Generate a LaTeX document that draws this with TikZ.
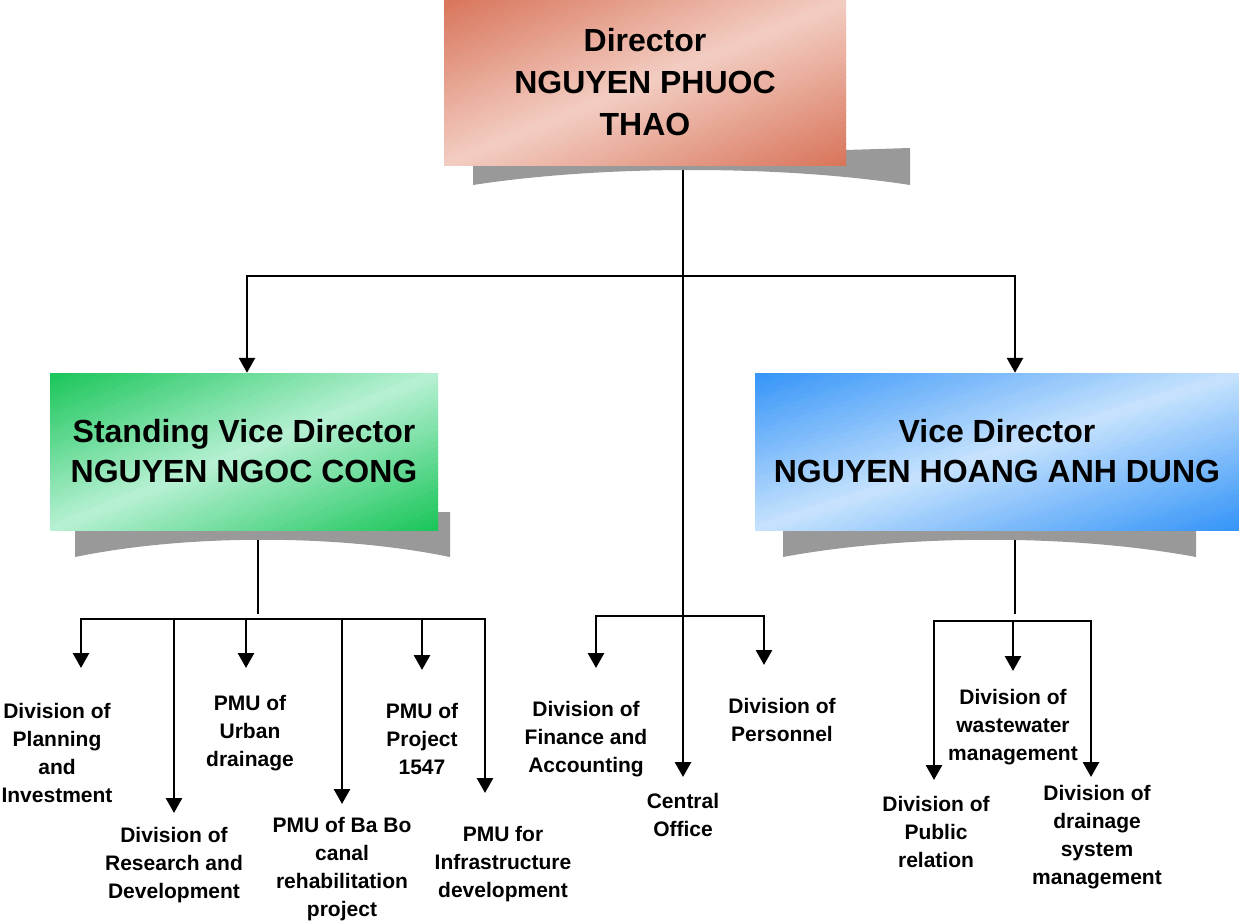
\documentclass[tikz,border=0pt]{standalone}
\usepackage{fontspec}
\setmainfont{Liberation Sans}
\usetikzlibrary{arrows.meta}
\pgfdeclarelayer{lines}
\pgfdeclarelayer{shadowlayer}
\pgfsetlayers{lines,shadowlayer,main}
\definecolor{salmonD}{HTML}{D8745A}
\definecolor{salmonL}{HTML}{F3CDC2}
\definecolor{greenD}{HTML}{18C558}
\definecolor{greenL}{HTML}{B6F0D3}
\definecolor{blueD}{HTML}{3494F8}
\definecolor{blueL}{HTML}{C6E2FD}
\definecolor{shadowgray}{HTML}{999999}
\newcommand\gradrect[6]{%
  \begin{scope}
    \clip (#1,#2) rectangle ++(#3,#4);
    \foreach \k in {0,...,59}{%
      \pgfmathsetmacro\ca{2*\k/60}%
      \pgfmathsetmacro\cb{2*(\k+1)/60+0.012}%
      \pgfmathtruncatemacro\m{100*abs(2*(\k+0.5)/60-1)}%
      \fill[#5!\m!#6] ({#1+(\ca+0.1)*#3},{#2-0.1*#4}) -- ({#1+(\cb+0.1)*#3},{#2-0.1*#4})
        -- ({#1+(\cb-1.1)*#3},{#2+1.1*#4}) -- ({#1+(\ca-1.1)*#3},{#2+1.1*#4}) -- cycle;
    }
  \end{scope}}
\tikzset{
  ln/.style={line width=2.8pt, line cap=rect},
  arr/.style={line width=2.8pt, -{Triangle[width=16pt,length=15pt]}},
  bigbox/.style={inner sep=0pt, align=center},
  lbl/.style={inner sep=0pt, align=center, font=\bfseries\fontsize{21}{28}\selectfont},
  shade/.style={fill=shadowgray}
}
\begin{document}
\begin{tikzpicture}[x=1pt,y=-1pt]
\useasboundingbox (0,0) rectangle (1239,923);
\begin{pgfonlayer}{lines}
\fill[white] (0,0) rectangle (1239,923);
\end{pgfonlayer}
% shadows
\begin{pgfonlayer}{shadowlayer}
\fill[shade] (473,150) -- (846,150) -- (910,148) -- (910,185)
  .. controls (780,165) and (603,165) .. (473,185) -- cycle;
\fill[shade] (75,512) -- (450,512) -- (450,557)
  .. controls (338,534) and (187,534) .. (75,557) -- cycle;
\fill[shade] (783,525) -- (1196,525) -- (1196,557)
  .. controls (1072,534) and (907,534) .. (783,557) -- cycle;
\end{pgfonlayer}
% box gradients
\gradrect{444}{0}{402}{165}{salmonD}{salmonL}
\gradrect{50}{373}{388}{157}{greenD}{greenL}
\gradrect{755}{373}{484}{157}{blueD}{blueL}
% boxes
\node[bigbox, minimum width=402pt, minimum height=165pt,
  font=\bfseries\fontsize{32}{42}\selectfont]
  (dir) at (645,82.5) {Director\\NGUYEN PHUOC\\THAO};
\node[bigbox, minimum width=388pt, minimum height=157pt,
  font=\bfseries\fontsize{32}{40}\selectfont]
  (svd) at (244,451.5) {Standing Vice Director\\NGUYEN NGOC CONG};
\node[bigbox, minimum width=484pt, minimum height=157pt,
  font=\bfseries\fontsize{32}{40}\selectfont]
  (vd) at (997,451.5) {Vice Director\\NGUYEN HOANG ANH DUNG};
% labels
\node[lbl] (plan) at (57,753) {Division of\\Planning\\and\\Investment};
\node[lbl] (res) at (174,865) {Division of\\Research and\\Development};
\node[lbl] (urb) at (250,733) {PMU of\\Urban\\drainage};
\node[lbl] (babo) at (342,869) {PMU of Ba Bo\\canal\\rehabilitation\\project};
\node[lbl] (p1547) at (422,739) {PMU of\\Project\\1547};
\node[lbl] (infra) at (503,864) {PMU for\\Infrastructure\\development};
\node[lbl] (fin) at (586,739) {Division of\\Finance and\\Accounting};
\node[lbl] (central) at (683,815) {Central\\Office};
\node[lbl] (pers) at (782,720) {Division of\\Personnel};
\node[lbl] (waste) at (1013,727) {Division of\\wastewater\\management};
\node[lbl] (pub) at (936,832) {Division of\\Public\\relation};
\node[lbl] (drain) at (1097,837) {Division of\\drainage\\system\\management};
% coordinates
\coordinate (jTop) at (683,276);
\coordinate (hL) at (247,276);
\coordinate (hR) at (1015,276);
\coordinate (tCentral) at (683,777);
\coordinate (lJ) at (258,613);
\coordinate (lL) at (81,619);
\coordinate (lR) at (485,619);
\coordinate (tPlan) at (81,668);
\coordinate (tRes) at (174,813);
\coordinate (tUrb) at (246,668);
\coordinate (tBaBo) at (342,804);
\coordinate (t1547) at (422,670);
\coordinate (tInfra) at (485,793);
\coordinate (cL) at (596,616);
\coordinate (cR) at (764,616);
\coordinate (tFin) at (596,668);
\coordinate (tPer) at (764,665);
\coordinate (rJ) at (1015,613);
\coordinate (rL) at (934,621);
\coordinate (rR) at (1091,621);
\coordinate (tPub) at (934,780);
\coordinate (tWaste) at (1013,671);
\coordinate (tDrain) at (1091,777);
% connectors
\begin{pgfonlayer}{lines}
\draw[arr] (dir.south -| jTop) -- (tCentral);
\draw[ln] (svd.south -| lJ) -- (lJ);
\draw[ln] (vd.south -| rJ) -- (rJ);
\end{pgfonlayer}
\draw[ln] (hL) -- (hR);
\draw[arr] (hL) -- (svd.north -| hL);
\draw[arr] (hR) -- (vd.north -| hR);
\draw[ln] (lL) -- (lR);
\foreach \t in {tPlan,tRes,tUrb,tBaBo,t1547,tInfra}
  \draw[arr] (\t |- lL) -- (\t);
\draw[ln] (cL) -- (cR);
\foreach \t in {tFin,tPer}
  \draw[arr] (\t |- cL) -- (\t);
\draw[ln] (rL) -- (rR);
\foreach \t in {tPub,tWaste,tDrain}
  \draw[arr] (\t |- rL) -- (\t);
\end{tikzpicture}
\end{document}
